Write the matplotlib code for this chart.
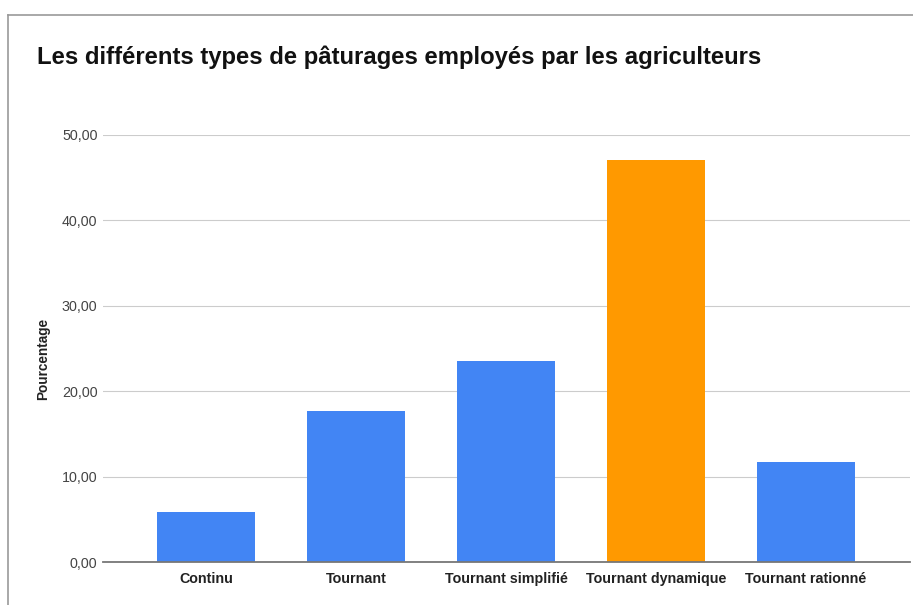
import matplotlib
matplotlib.use('Agg')
import matplotlib.pyplot as plt
from matplotlib.lines import Line2D

plt.rcParams['font.family'] = ['Liberation Sans', 'DejaVu Sans']

categories = ['Continu', 'Tournant', 'Tournant simplifié', 'Tournant dynamique', 'Tournant rationné']
values = [5.88, 17.65, 23.53, 47.06, 11.76]
highlight = 'Tournant dynamique'
yticks = [0, 10, 20, 30, 40, 50]

blue = '#4285F4'
orange = '#FF9900'

fig = plt.figure(figsize=(9.13, 6.05), dpi=100)
W, H = 913, 605

left, right = 103, 910
top, bottom = 135, 562
ax = fig.add_axes((left / W, (H - bottom) / H, (right - left) / W, (bottom - top) / H))

x = list(range(len(categories)))
colors = [orange if c == highlight else blue for c in categories]
ax.bar(x, values, width=0.653, color=colors, zorder=3)

ax.set_xlim(-0.687, 4.693)
ax.set_ylim(0, 50)
ax.set_yticks(yticks)
ax.set_yticklabels([f'{v:.2f}'.replace('.', ',') for v in yticks], fontsize=10.3, color='#444444')
ax.set_xticks(x)
ax.set_xticklabels(categories, fontsize=10.3, fontweight='bold', color='#222222')
ax.tick_params(axis='both', length=0)
ax.tick_params(axis='y', pad=4)
ax.tick_params(axis='x', pad=7)

ax.grid(axis='y', color='#cccccc', lw=0.8, zorder=0)
for s in ['top', 'right', 'left']:
    ax.spines[s].set_visible(False)
ax.spines['bottom'].set_color('#777777')
ax.spines['bottom'].set_linewidth(1.3)
ax.spines['bottom'].set_zorder(4)

ax.set_ylabel('Pourcentage', fontsize=9.8, fontweight='bold', color='#222222')
ax.yaxis.set_label_coords((50 - left) / (right - left), (bottom - 359) / (bottom - top))

fig.text(37 / W, 1 - 57 / H, 'Les différents types de pâturages employés par les agriculteurs',
         fontsize=17.2, fontweight='bold', color='#111111', va='center', ha='left')

# frame of the screenshot
fig.add_artist(Line2D([8 / W, 1], [1 - 15 / H, 1 - 15 / H], color='#999999', lw=1.2))
fig.add_artist(Line2D([8 / W, 8 / W], [0, 1 - 15 / H], color='#999999', lw=1.2))

fig.savefig('out.png', dpi=100)
